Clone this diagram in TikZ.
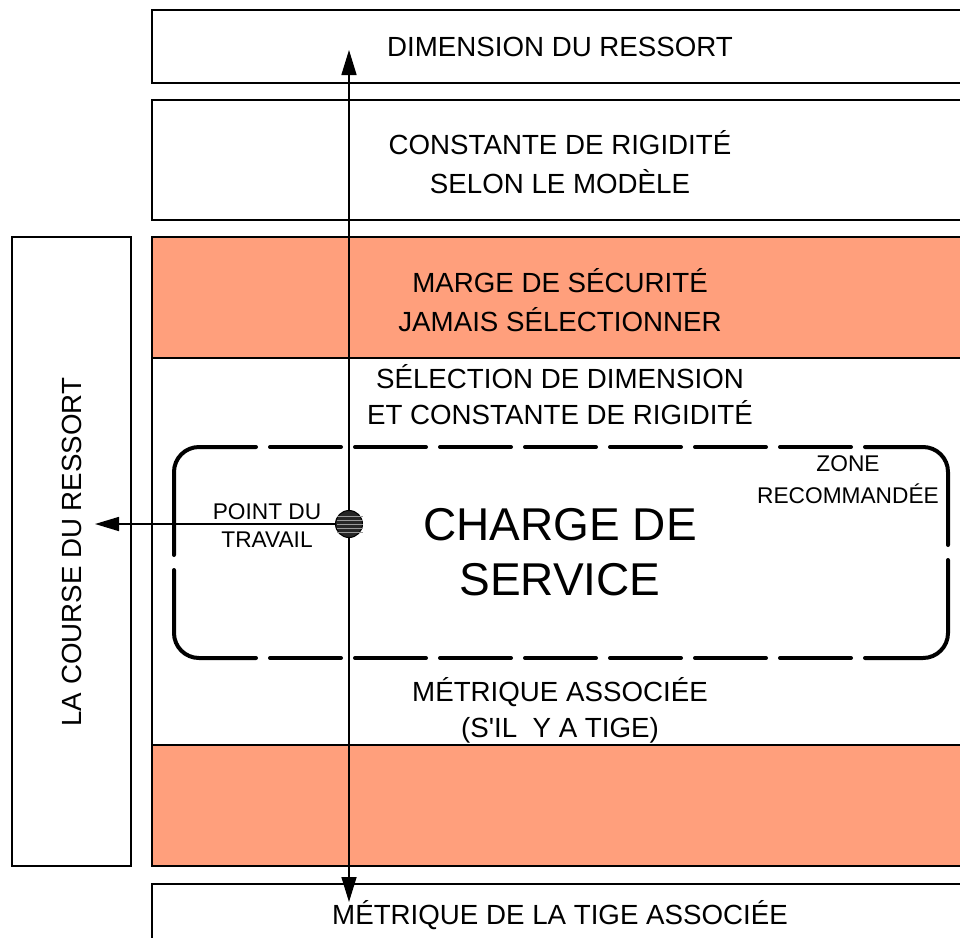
\documentclass[tikz,border=0pt]{standalone}
\usepackage{fontspec}
\setmainfont{Liberation Sans}
\usetikzlibrary{arrows.meta}
\definecolor{bandorange}{RGB}{255,159,124}
\tikzset{
  boxline/.style={draw=black, line width=2.5pt},
  band/.style={fill=bandorange, draw=black, line width=2.5pt},
  maintext/.style={align=center, font=\fontsize{27.7}{39}\selectfont, inner sep=0pt},
  smalltext/.style={align=center, font=\fontsize{22.7}{28}\selectfont, inner sep=0pt},
  bigtext/.style={align=center, font=\fontsize{46}{55}\selectfont, inner sep=0pt},
  zoneline/.style={line width=4pt, line cap=round},
  axis/.style={line width=1.6pt},
}
\begin{document}
\begin{tikzpicture}[x=1pt,y=-1pt]
\useasboundingbox (0,0) rectangle (960,937);
\clip (0,0) rectangle (960,937);
\fill[white] (0,0) rectangle (960,937);

% top boxes
\draw[boxline] (152,10) rectangle (970,83);
\draw[boxline] (152,100) rectangle (970,220);
% big frame with orange bands
\draw[band] (152,237) rectangle (970,358);
\draw[band] (152,745) rectangle (970,866);
\draw[boxline] (152,237) rectangle (970,866);
% bottom box
\draw[boxline] (152,884) rectangle (970,960);
% left box
\draw[boxline] (12,237) rectangle (131,866);

% dashed recommended zone
\draw[zoneline, rounded corners=25pt] (256,447) -- (174,447) -- (174,555);
\draw[zoneline, rounded corners=25pt] (174,570) -- (174,658) -- (256,658);
\foreach \xx in {270,355,440,525,610,695,780}{
  \draw[zoneline] (\xx,447) -- ++(71,0);
  \draw[zoneline] (\xx,658) -- ++(71,0);
}
\draw[zoneline, rounded corners=25pt] (865,447) -- (948,447) -- (948,545);
\draw[zoneline, rounded corners=25pt] (948,560) -- (948,658) -- (865,658);

% texts
\node[maintext] (t1) at (560,47) {DIMENSION DU RESSORT};
\node[maintext] (t2) at (560,162) {CONSTANTE DE RIGIDITÉ\\SELON LE MODÈLE};
\node[maintext] (t3) at (560,300) {MARGE DE SÉCURITÉ\\JAMAIS SÉLECTIONNER};
\node[maintext, font=\fontsize{27.7}{36}\selectfont] (t4) at (560,395) {SÉLECTION DE DIMENSION\\ET CONSTANTE DE RIGIDITÉ};
\node[maintext, font=\fontsize{27.7}{36}\selectfont] (t5) at (560,710) {MÉTRIQUE ASSOCIÉE\\(S\textquotesingle IL\ \ Y A TIGE)};
\node[maintext] (t6) at (560,915) {MÉTRIQUE DE LA TIGE ASSOCIÉE};
\node[maintext, rotate=90] (t7) at (72,552) {LA COURSE DU RESSORT};
\node[smalltext] (pt) at (267,526) {POINT DU\\TRAVAIL};
\node[smalltext, font=\fontsize{22.7}{32}\selectfont] (zone) at (848,480) {ZONE\\RECOMMANDÉE};
\node[bigtext] (charge) at (560,552) {CHARGE DE\\SERVICE};

% axes
\coordinate (top) at (349,50);
\coordinate (bot) at (349,902);
\coordinate (left) at (95,524);
\draw[axis, {Triangle[length=25pt,width=15pt]}-{Triangle[length=25pt,width=15pt]}] (bot) -- (top);
\node[circle, fill=black!85, draw=black, line width=1pt, minimum size=27pt, inner sep=0pt] (pw) at (349,524) {};
\foreach \dy in {-8,-4,0,4,8}{
  \draw[white!60!black, line width=0.5pt] ([yshift=\dy pt]pw.west) ++(2,0) -- ([yshift=\dy pt]pw.east);
}
\draw[axis, -{Triangle[length=24pt,width=14pt]}] (pw.west) -- (left);
\end{tikzpicture}
\end{document}
